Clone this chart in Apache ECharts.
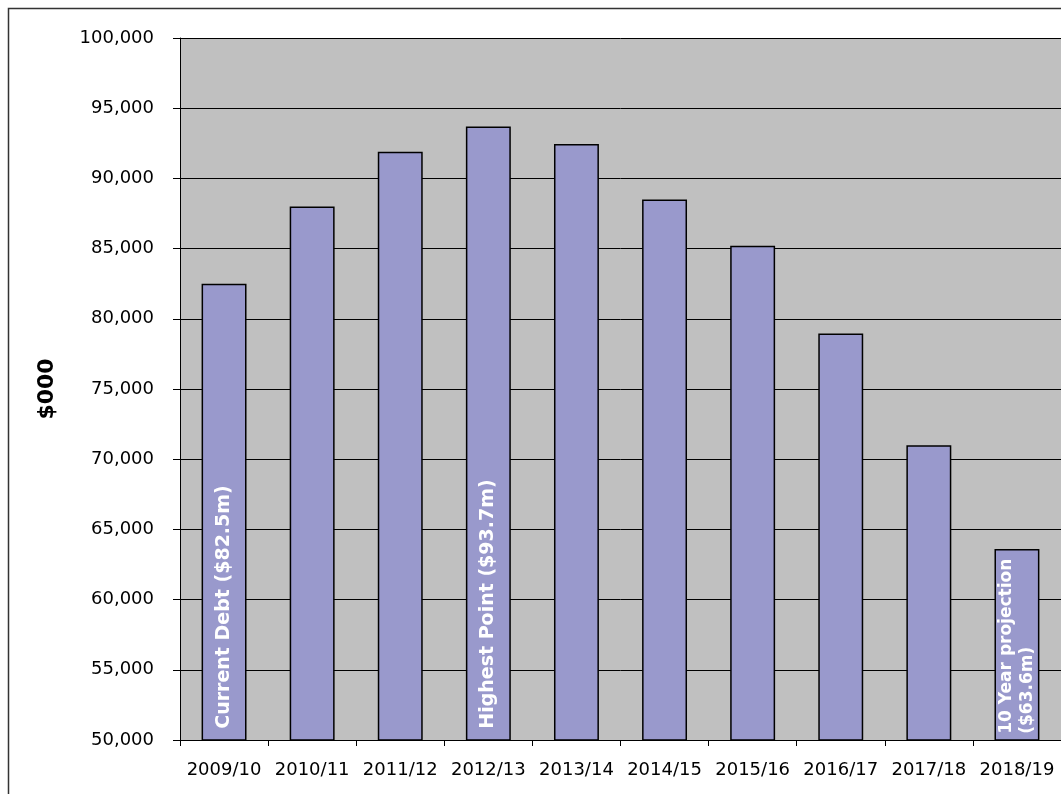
<!DOCTYPE html>
<html>
<head>
<meta charset="utf-8">
<script src="https://cdn.jsdelivr.net/npm/echarts@6/dist/echarts.min.js"></script>
<style>
  html, body { margin: 0; padding: 0; background: #fff; }
  #main { width: 1061px; height: 794px; }
</style>
</head>
<body>
<div id="main"></div>
<script>
var years = ['2009/10', '2010/11', '2011/12', '2012/13', '2013/14', '2014/15', '2015/16', '2016/17', '2017/18', '2018/19'];
var debt = [82500, 88000, 91900, 93700, 92450, 88500, 85200, 78950, 71000, 63600];
var notes = ['Current Debt ($82.5m)', '', '', 'Highest Point ($93.7m)', '', '', '', '', '', '10 Year projection\n($63.6m)'];
var yTicks = { min: 50000, max: 100000, step: 5000 };

var myChart = echarts.init(document.getElementById('main'));

var font = 'DejaVu Sans, Verdana, sans-serif';

// two-line note in the narrow last bar is set a bit smaller
function noteLabel(text) {
  var lbl = { formatter: text };
  if (text.indexOf('\n') >= 0) {
    lbl.fontSize = 17;
    lbl.lineHeight = 21;
    lbl.distance = 7;
  }
  return lbl;
}

option = {
  animation: false,
  backgroundColor: '#fff',
  graphic: [{
    type: 'rect',
    shape: { x: 8.5, y: 8.5, width: 1200, height: 1200 },
    style: { fill: 'none', stroke: '#333', lineWidth: 1.5 },
    silent: true
  }],
  grid: {
    left: 180,
    top: 38,
    width: 885,
    height: 702,
    show: true,
    backgroundColor: '#C0C0C0',
    borderWidth: 0
  },
  xAxis: {
    type: 'category',
    data: years,
    axisLine: { lineStyle: { color: '#000', width: 1 } },
    axisTick: { show: true, length: 6, lineStyle: { color: '#000' } },
    axisLabel: { color: '#000', fontFamily: font, fontSize: 18, margin: 21, interval: 0 },
    splitLine: { show: false }
  },
  yAxis: {
    type: 'value',
    min: yTicks.min,
    max: yTicks.max,
    interval: yTicks.step,
    name: '$000',
    nameLocation: 'middle',
    nameGap: 122,
    nameRotate: 90,
    nameTextStyle: { color: '#000', fontFamily: font, fontSize: 22, fontWeight: 'bold' },
    axisLine: { show: true, lineStyle: { color: '#000', width: 1 } },
    axisTick: { show: true, length: 7, lineStyle: { color: '#000' } },
    axisLabel: {
      color: '#000', fontFamily: font, fontSize: 18, margin: 26,
      formatter: function (v) { return v.toLocaleString('en-US'); }
    },
    splitLine: { show: true, lineStyle: { color: '#000', width: 1 } }
  },
  series: [{
    type: 'bar',
    data: debt.map(function (v, i) { return { value: v, label: noteLabel(notes[i]) }; }),
    barCategoryGap: '49%',
    itemStyle: { color: '#9999CC', borderColor: '#000', borderWidth: 1.5 },
    label: {
      show: true,
      position: 'insideBottom',
      distance: 12,
      rotate: 90,
      align: 'left',
      verticalAlign: 'middle',
      color: '#fff',
      fontFamily: font,
      fontSize: 19,
      fontWeight: 'bold'
    }
  }]
};

myChart.setOption(option);
</script>
</body>
</html>
